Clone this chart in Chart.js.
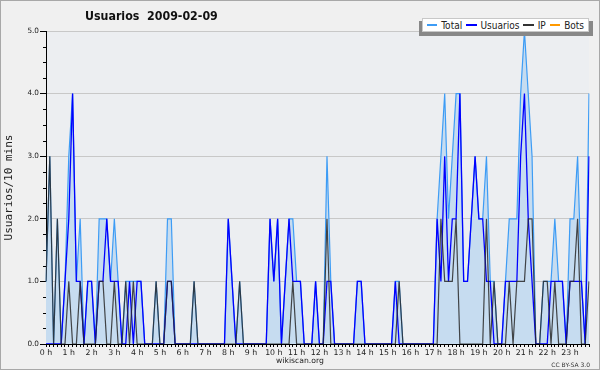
<!DOCTYPE html>
<html>
<head>
<meta charset="utf-8">
<script src="https://cdn.jsdelivr.net/npm/chart.js@4.4.1/dist/chart.umd.min.js"></script>
<style>
  html, body { margin: 0; padding: 0; background: #f0f0f0; }
  #wrap { position: relative; width: 600px; height: 370px; overflow: hidden; }
  #chart { position: absolute; left: 0; top: 0; }
  #frame { position: absolute; left: 0; top: 0; width: 600px; height: 370px; box-sizing: border-box; border: 1px solid #a8a8a8; pointer-events: none; }
  #title { position: absolute; left: 85px; top: 9px; font: bold 12.3px "DejaVu Sans Condensed", "DejaVu Sans", sans-serif;
           font-stretch: condensed; color: #111; white-space: pre; }
  #shadow { position: absolute; left: 419px; top: 21px; width: 174px; height: 15px; background: #888; }
  #legend { position: absolute; left: 422px; top: 18px; width: 167px; height: 14px; box-sizing: border-box;
            background: #fff; border: 1px solid #c8c8c8;
            display: flex; align-items: center; padding-left: 4px; white-space: nowrap;
            font: 10px "DejaVu Sans Condensed", "DejaVu Sans", sans-serif; font-stretch: condensed; color: #222; }
  #legend i { display: inline-block; width: 11px; height: 1.6px; margin-right: 4px; }
  #legend span { margin-right: 4px; }
  #site { position: absolute; left: 0; width: 600px; top: 356px; text-align: center; font: 7.7px "DejaVu Sans", sans-serif; color: #222; }
  #lic { position: absolute; right: 10px; top: 361px; font: 6px "DejaVu Sans", sans-serif; color: #333; }
</style>
</head>
<body>
<div id="wrap">
  <canvas id="chart" width="600" height="370"></canvas>
  <div id="title">Usuarios  2009-02-09</div>
  <div id="shadow"></div>
  <div id="legend">
    <i style="background:#3d9cf5"></i><span>Total</span>
    <i style="background:#0000ff"></i><span>Usuarios</span>
    <i style="background:#333333"></i><span>IP</span>
    <i style="background:#ff9900"></i><span>Bots</span>
  </div>
  <div id="site">wikiscan.org</div>
  <div id="lic">CC BY-SA 3.0</div>
  <div id="frame"></div>
</div>
<script>
// one value every 10 minutes, 0:00 .. 23:50 (one row = 4 hours)
const hourLabels = ['0 h','1 h','2 h','3 h','4 h','5 h','6 h','7 h','8 h','9 h','10 h','11 h',
                    '12 h','13 h','14 h','15 h','16 h','17 h','18 h','19 h','20 h','21 h','22 h','23 h'];

const total = [
  1,3,0,2,0,1, 3,4,1,2,0,1, 1,0,2,2,2,1, 2,1,0,1,1,1,
  1,1,0,0,0,1, 0,0,2,2,0,0, 0,0,0,1,0,0, 0,0,0,0,0,0,
  2,1,0,1,0,0, 0,0,0,0,0,2, 1,2,0,1,2,2, 1,1,0,0,0,1,
  0,0,3,1,0,0, 0,0,0,0,1,1, 0,0,0,0,0,0, 0,0,1,1,0,0,
  0,0,0,0,0,0, 0,2,3,4,2,3, 4,4,1,1,2,3, 2,2,3,1,1,0,
  0,1,2,2,2,4, 5,4,3,0,0,1, 1,1,2,1,1,0, 2,2,3,1,0,4
];
const usuarios = [
  0,0,0,0,0,1, 2,4,1,1,0,1, 1,0,1,1,2,1, 1,1,0,0,1,0,
  1,1,0,0,0,0, 0,0,1,1,0,0, 0,0,0,0,0,0, 0,0,0,0,0,0,
  2,1,0,0,0,0, 0,0,0,0,0,2, 1,2,0,1,2,1, 1,1,0,0,0,1,
  0,0,1,1,0,0, 0,0,0,0,1,1, 0,0,0,0,0,0, 0,0,1,0,0,0,
  0,0,0,0,0,0, 0,2,1,3,1,2, 2,4,1,1,2,3, 2,2,1,1,0,0,
  0,1,1,1,1,3, 4,2,1,0,0,0, 0,1,1,1,1,0, 1,1,1,1,0,3
];
const ip = [
  1,3,0,2,0,0, 1,0,0,1,0,0, 0,0,1,1,0,0, 1,0,0,1,0,1,
  0,0,0,0,0,1, 0,0,1,1,0,0, 0,0,0,1,0,0, 0,0,0,0,0,0,
  0,0,0,1,0,0, 0,0,0,0,0,0, 0,0,0,0,0,1, 0,0,0,0,0,0,
  0,0,2,0,0,0, 0,0,0,0,0,0, 0,0,0,0,0,0, 0,0,0,1,0,0,
  0,0,0,0,0,0, 0,0,2,1,1,1, 2,0,0,0,0,0, 0,0,2,0,1,0,
  0,0,1,0,1,1, 1,2,2,0,0,1, 1,0,1,0,0,0, 1,1,2,0,0,1
];
const bots = [
  0,0,0,0,0,0, 0,0,0,0,0,0, 0,0,0,0,0,0, 0,0,0,0,0,0,
  0,0,0,0,0,0, 0,0,0,0,0,0, 0,0,0,0,0,0, 0,0,0,0,0,0,
  0,0,0,0,0,0, 0,0,0,0,0,0, 0,0,0,0,0,0, 0,0,0,0,0,0,
  0,0,0,0,0,0, 0,0,0,0,0,0, 0,0,0,0,0,0, 0,0,0,0,0,0,
  0,0,0,0,0,0, 0,0,0,0,0,0, 0,0,0,0,0,0, 0,0,0,0,0,0,
  0,0,0,0,0,0, 0,0,0,0,0,0, 0,0,0,0,0,0, 0,0,0,0,0,0
];

// time slot labels (category axis)
const slots = [];
for (let h = 0; h < 24; h++) {
  for (let m = 0; m < 60; m += 10) slots.push(h + ':' + (m < 10 ? '0' : '') + m);
}

const plotBack = {
  id: 'plotBack',
  beforeDraw(c) {
    const a = c.chartArea, ctx = c.ctx;
    ctx.save();
    ctx.fillStyle = '#eceef1';
    ctx.fillRect(a.left, a.top, a.right - a.left, a.bottom - a.top);
    ctx.restore();
  },
  afterDraw(c) {
    // minor ticks on the y axis, every 0.25
    const y = c.scales.y, ctx = c.ctx;
    ctx.save();
    ctx.strokeStyle = '#000';
    ctx.lineWidth = 1;
    ctx.beginPath();
    for (let k = 1; k < 20; k++) {
      if (k % 4 === 0) continue;
      const p = Math.round(y.getPixelForValue(k / 4)) + 0.5;
      ctx.moveTo(y.right - 3, p);
      ctx.lineTo(y.right, p);
    }
    ctx.stroke();
    ctx.restore();
  }
};

const ctx = document.getElementById('chart').getContext('2d');
const myChart = new Chart(ctx, {
  type: 'line',
  data: {
    labels: slots,
    datasets: [
      { label: 'IP', data: ip, borderColor: 'rgba(40,40,40,0.85)', borderWidth: 1.2, order: 1 },
      { label: 'Usuarios', data: usuarios, borderColor: '#0000ff', borderWidth: 1.3, order: 2 },
      { label: 'Total', data: total, borderColor: '#3d9cf5', borderWidth: 1.2,
        fill: 'origin', backgroundColor: 'rgb(198,220,240)', order: 3 },
      { label: 'Bots', data: bots, borderColor: '#ff9900', borderWidth: 1.2, order: 4 }
    ]
  },
  options: {
    responsive: false,
    animation: false,
    devicePixelRatio: 1,
    layout: { padding: { top: 31, right: 11, left: 0, bottom: 0 } },
    elements: { point: { radius: 0 }, line: { tension: 0 } },
    plugins: { legend: { display: false }, tooltip: { enabled: false } },
    scales: {
      x: {
        type: 'category',
        offset: false,
        z: 1,
        afterFit(s) { s.height = 26; },
        border: { color: '#000', width: 1 },
        grid: { drawOnChartArea: false, tickLength: 3, tickColor: '#000' },
        ticks: {
          autoSkip: false, maxRotation: 0, minRotation: 0, padding: 1,
          color: '#222', font: { family: 'DejaVu Sans', size: 7.8 },
          callback: (v, i) => (i % 6 === 0 ? hourLabels[i / 6] : '')
        }
      },
      y: {
        min: 0, max: 5,
        afterFit(s) { s.width = 46; },
        border: { color: '#000', width: 1 },
        grid: { color: '#c8c8c8', tickColor: '#000', tickLength: 6 },
        ticks: {
          stepSize: 1, padding: 1, color: '#222',
          font: { family: 'DejaVu Sans', size: 7.3 },
          callback: v => v.toFixed(1)
        },
        title: {
          display: true, text: 'Usuarios/10 mins', color: '#222',
          font: { family: 'DejaVu Sans Mono', size: 11 },
          padding: { top: 3, bottom: 0 }
        }
      }
    }
  },
  plugins: [plotBack]
});
</script>
</body>
</html>
